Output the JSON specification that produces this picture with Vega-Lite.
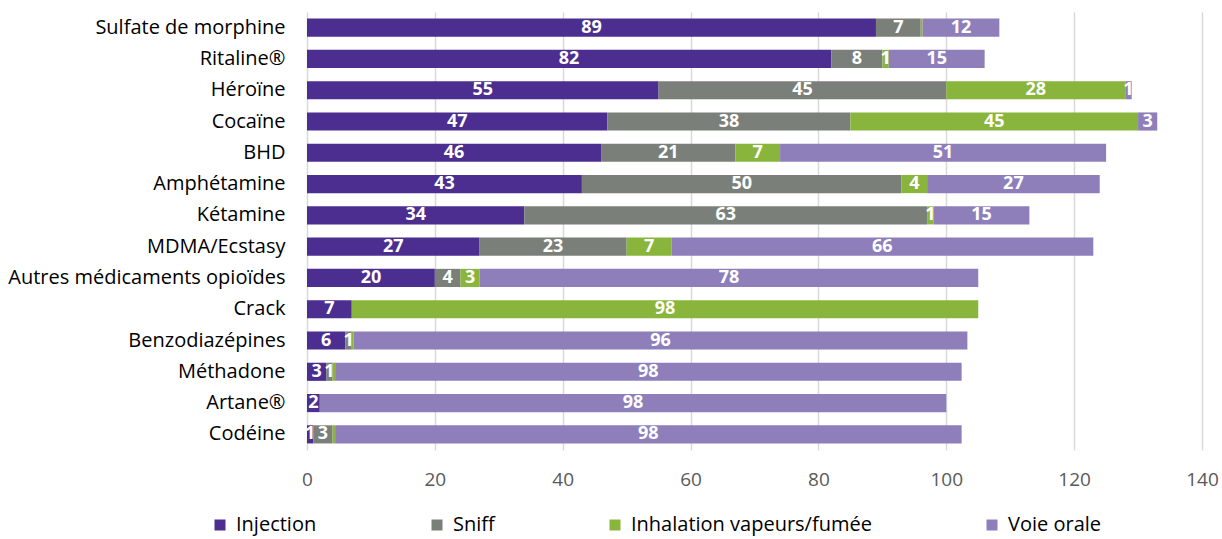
{
  "$schema": "https://vega.github.io/schema/vega-lite/v6.json",
  "width": 895,
  "height": 438,
  "autosize": {"type": "none"},
  "padding": {"left": 307, "top": 12, "right": 20, "bottom": 89},
  "background": "white",
  "config": {"font": "Open Sans", "view": {"stroke": null}},
  "data": {
    "values": [
      {"drug": "Sulfate de morphine", "mode": "Injection", "value": 89},
      {"drug": "Sulfate de morphine", "mode": "Sniff", "value": 7},
      {"drug": "Sulfate de morphine", "mode": "Inhalation vapeurs/fumée", "value": 0.3},
      {"drug": "Sulfate de morphine", "mode": "Voie orale", "value": 12},
      {"drug": "Ritaline®", "mode": "Injection", "value": 82},
      {"drug": "Ritaline®", "mode": "Sniff", "value": 8},
      {"drug": "Ritaline®", "mode": "Inhalation vapeurs/fumée", "value": 1},
      {"drug": "Ritaline®", "mode": "Voie orale", "value": 15},
      {"drug": "Héroïne", "mode": "Injection", "value": 55},
      {"drug": "Héroïne", "mode": "Sniff", "value": 45},
      {"drug": "Héroïne", "mode": "Inhalation vapeurs/fumée", "value": 28},
      {"drug": "Héroïne", "mode": "Voie orale", "value": 1},
      {"drug": "Cocaïne", "mode": "Injection", "value": 47},
      {"drug": "Cocaïne", "mode": "Sniff", "value": 38},
      {"drug": "Cocaïne", "mode": "Inhalation vapeurs/fumée", "value": 45},
      {"drug": "Cocaïne", "mode": "Voie orale", "value": 3},
      {"drug": "BHD", "mode": "Injection", "value": 46},
      {"drug": "BHD", "mode": "Sniff", "value": 21},
      {"drug": "BHD", "mode": "Inhalation vapeurs/fumée", "value": 7},
      {"drug": "BHD", "mode": "Voie orale", "value": 51},
      {"drug": "Amphétamine", "mode": "Injection", "value": 43},
      {"drug": "Amphétamine", "mode": "Sniff", "value": 50},
      {"drug": "Amphétamine", "mode": "Inhalation vapeurs/fumée", "value": 4},
      {"drug": "Amphétamine", "mode": "Voie orale", "value": 27},
      {"drug": "Kétamine", "mode": "Injection", "value": 34},
      {"drug": "Kétamine", "mode": "Sniff", "value": 63},
      {"drug": "Kétamine", "mode": "Inhalation vapeurs/fumée", "value": 1},
      {"drug": "Kétamine", "mode": "Voie orale", "value": 15},
      {"drug": "MDMA/Ecstasy", "mode": "Injection", "value": 27},
      {"drug": "MDMA/Ecstasy", "mode": "Sniff", "value": 23},
      {"drug": "MDMA/Ecstasy", "mode": "Inhalation vapeurs/fumée", "value": 7},
      {"drug": "MDMA/Ecstasy", "mode": "Voie orale", "value": 66},
      {"drug": "Autres médicaments opioïdes", "mode": "Injection", "value": 20},
      {"drug": "Autres médicaments opioïdes", "mode": "Sniff", "value": 4},
      {"drug": "Autres médicaments opioïdes", "mode": "Inhalation vapeurs/fumée", "value": 3},
      {"drug": "Autres médicaments opioïdes", "mode": "Voie orale", "value": 78},
      {"drug": "Crack", "mode": "Injection", "value": 7},
      {"drug": "Crack", "mode": "Inhalation vapeurs/fumée", "value": 98},
      {"drug": "Benzodiazépines", "mode": "Injection", "value": 6},
      {"drug": "Benzodiazépines", "mode": "Sniff", "value": 1},
      {"drug": "Benzodiazépines", "mode": "Inhalation vapeurs/fumée", "value": 0.3},
      {"drug": "Benzodiazépines", "mode": "Voie orale", "value": 96},
      {"drug": "Méthadone", "mode": "Injection", "value": 3},
      {"drug": "Méthadone", "mode": "Sniff", "value": 1},
      {"drug": "Méthadone", "mode": "Inhalation vapeurs/fumée", "value": 0.4},
      {"drug": "Méthadone", "mode": "Voie orale", "value": 98},
      {"drug": "Artane®", "mode": "Injection", "value": 2},
      {"drug": "Artane®", "mode": "Voie orale", "value": 98},
      {"drug": "Codéine", "mode": "Injection", "value": 1},
      {"drug": "Codéine", "mode": "Sniff", "value": 3},
      {"drug": "Codéine", "mode": "Inhalation vapeurs/fumée", "value": 0.4},
      {"drug": "Codéine", "mode": "Voie orale", "value": 98}
    ]
  },
  "transform": [
    {"calculate": "indexof(['Injection','Sniff','Inhalation vapeurs/fumée','Voie orale'], datum.mode)", "as": "ord"},
    {"stack": "value", "groupby": ["drug"], "sort": [{"field": "ord", "order": "ascending"}], "as": ["v0", "v1"]},
    {"calculate": "(datum.v0 + datum.v1) / 2", "as": "mid"}
  ],
  "encoding": {
    "y": {
      "field": "drug",
      "type": "nominal",
      "sort": null,
      "scale": {"paddingInner": 0.42, "paddingOuter": 0.21},
      "axis": {
        "title": null,
        "domain": false,
        "ticks": false,
        "labelFontSize": 20,
        "labelColor": "#000000",
        "labelPadding": 22,
        "labelLimit": 400
      }
    }
  },
  "layer": [
    {
      "mark": {"type": "bar"},
      "encoding": {
        "x": {
          "field": "v0",
          "type": "quantitative",
          "scale": {"domain": [0, 140], "nice": false},
          "axis": {
            "title": null,
            "values": [0, 20, 40, 60, 80, 100, 120, 140],
            "grid": true,
            "gridColor": "#d9d9d9",
            "gridWidth": 1.5,
            "domain": false,
            "ticks": false,
            "labelFlush": false,
            "labelPadding": 20,
            "labelFontSize": 19,
            "labelColor": "#595959"
          }
        },
        "x2": {"field": "v1"},
        "color": {
          "field": "mode",
          "type": "nominal",
          "scale": {
            "domain": ["Injection", "Sniff", "Inhalation vapeurs/fumée", "Voie orale"],
            "range": ["#4b2e8f", "#7b7f79", "#8ab53d", "#8e7fbb"]
          },
          "legend": {
            "title": null,
            "orient": "none",
            "direction": "horizontal",
            "legendX": -97,
            "legendY": 503,
            "columnPadding": 110,
            "symbolType": "square",
            "symbolSize": 121,
            "symbolStrokeWidth": 0,
            "symbolOpacity": 1,
            "labelFontSize": 20,
            "labelColor": "#000000",
            "labelOffset": 6,
            "labelLimit": 400
          }
        }
      }
    },
    {
      "transform": [{"filter": "datum.value >= 1"}],
      "mark": {"type": "text", "color": "white", "fontWeight": "bold", "fontSize": 18, "baseline": "middle", "align": "center"},
      "encoding": {
        "x": {"field": "mid", "type": "quantitative"},
        "text": {"field": "value", "type": "quantitative"}
      }
    }
  ]
}
